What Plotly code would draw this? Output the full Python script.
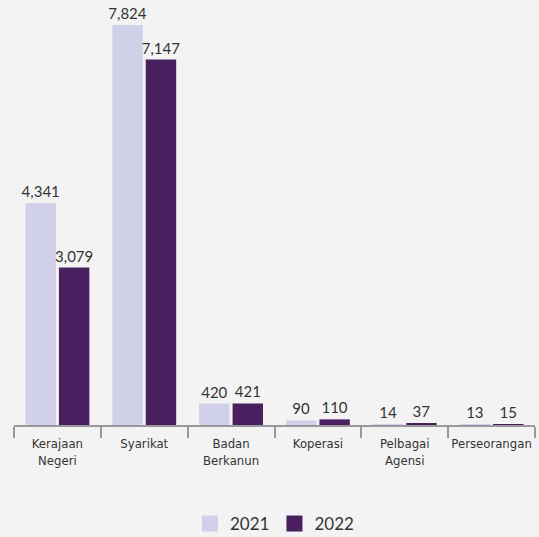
import plotly.graph_objects as go

categories = ["Kerajaan<br>Negeri", "Syarikat", "Badan<br>Berkanun", "Koperasi", "Pelbagai<br>Agensi", "Perseorangan"]
values_2021 = [4341, 7824, 420, 90, 14, 13]
values_2022 = [3079, 7147, 421, 110, 37, 15]
series_names = ["2021", "2022"]
colors = ["#d0d0e8", "#4a1f5f"]

fig = go.Figure()
for name, vals, col in zip(series_names, [values_2021, values_2022], colors):
    fig.add_trace(go.Bar(
        x=categories, y=vals, name=name, marker=dict(color=col, line=dict(width=0)),
        texttemplate="%{y:,}", textposition="outside", cliponaxis=False, constraintext="none",
        textfont=dict(size=15, color="#333333", family="Lato, Roboto, sans-serif"),
        showlegend=False,
    ))
    fig.add_trace(go.Scatter(
        x=[None], y=[None], mode="markers", name=name,
        marker=dict(symbol="square", size=17, color=col),
    ))

fig.update_layout(
    width=539, height=537,
    paper_bgcolor="#f3f3f3", plot_bgcolor="#f3f3f3",
    margin=dict(l=14, r=4, t=16, b=112, autoexpand=False),
    barmode="group", bargap=0.23, bargroupgap=0.09,
    font=dict(family="Lato, Roboto, sans-serif", color="#333333"),
    legend=dict(orientation="h", x=0.5, xanchor="center", y=-0.198, yanchor="top",
                font=dict(size=17, color="#333333"), itemsizing="trace"),
    xaxis=dict(
        tickson="boundaries", ticks="outside", ticklen=11, tickcolor="#999999", tickwidth=1.5,
        showline=True, linecolor="#999999", linewidth=1.5, tickangle=0, automargin=False,
        ticklabelstandoff=6,
        tickfont=dict(size=13, family="DejaVu Sans Condensed, Liberation Sans Narrow, Roboto, sans-serif", color="#333333"),
        showgrid=False,
    ),
    yaxis=dict(range=[0, 8000], visible=False, showgrid=False),
)

fig.write_html(
    "out.html",
    config={"displayModeBar": False},
    post_script="document.body.style.margin='0';document.body.style.background='#f3f3f3';",
)
